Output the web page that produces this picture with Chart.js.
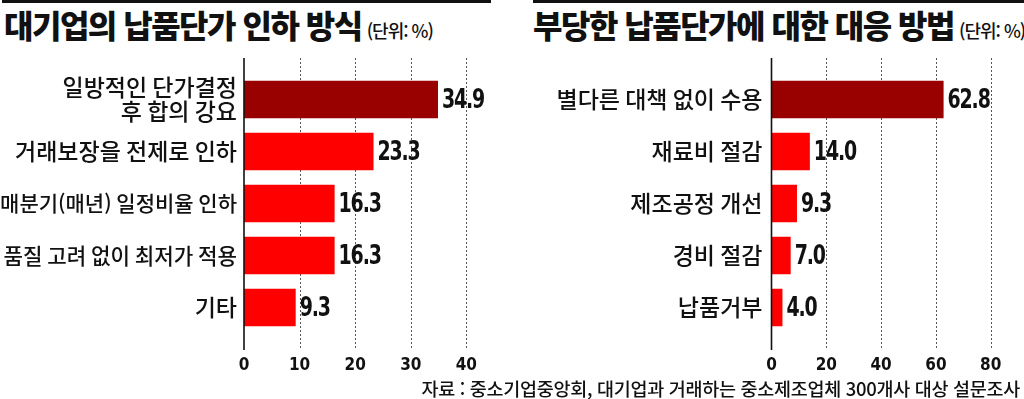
<!DOCTYPE html>
<html lang="ko">
<head>
<meta charset="utf-8">
<script src="https://cdn.jsdelivr.net/npm/chart.js@4"></script>
<style>
  html, body { margin:0; padding:0; background:#fff; }
  body { width:1024px; height:399px; position:relative; overflow:hidden; font-family:"Noto Sans CJK KR", sans-serif; color:#111; }
  .rule { position:absolute; top:0; height:3px; background:#111; }
  .title { position:absolute; top:8px; font-size:32px; font-weight:900; letter-spacing:-1.5px; line-height:1; white-space:nowrap; color:#111; }
  .title small { font-size:18px; font-weight:500; letter-spacing:-1px; margin-left:5px; }
  .src { position:absolute; right:4px; top:379px; font-size:18.5px; font-weight:500; line-height:1; letter-spacing:-0.3px; white-space:nowrap; color:#111; }
  canvas { position:absolute; top:0; }
</style>
</head>
<body>
<div class="rule" style="left:2px;width:489px"></div>
<div class="rule" style="left:533px;width:491px"></div>
<div class="title" style="left:4px">대기업의 납품단가 인하 방식<small>(단위: %)</small></div>
<div class="title" style="left:533px">부당한 납품단가에 대한 대응 방법<small>(단위: %)</small></div>
<canvas id="c1" width="500" height="399" style="left:0"></canvas>
<canvas id="c2" width="512" height="399" style="left:512px"></canvas>
<div class="src">자료 : 중소기업중앙회, 대기업과 거래하는 중소제조업체 300개사 대상 설문조사</div>
<script>
const leftCategories = [['일방적인 단가결정', '후 합의 강요'], '거래보장을 전제로 인하', '매분기(매년) 일정비율 인하', '품질 고려 없이 최저가 적용', '기타'];
const leftValues = [34.9, 23.3, 16.3, 16.3, 9.3];
const leftTicks = [0, 10, 20, 30, 40];

const rightCategories = ['별다른 대책 없이 수용', '재료비 절감', '제조공정 개선', '경비 절감', '납품거부'];
const rightValues = [62.8, 14.0, 9.3, 7.0, 4.0];
const rightTicks = [0, 20, 40, 60, 80];

const leftLabelSizes = [23, 23, 21, 21.2, 23];
const rightLabelSizes = [23, 23, 23, 23, 23];

const DARK = '#990000', RED = '#ff0000';
const NUMFONT = '"DejaVu Sans Condensed", "Liberation Sans", sans-serif';

function makeChart(id, cats, vals, ticks, maxV, yWidth, yPad, padRight, labelSizes) {
  const gridPlugin = {
    id: 'gridExt',
    beforeDatasetsDraw(chart) {
      const ctx = chart.ctx, x = chart.scales.x;
      ctx.save();
      ctx.strokeStyle = '#555';
      ctx.lineWidth = 1;
      ctx.setLineDash([2, 2]);
      ticks.forEach(t => {
        if (t === 0) return;
        const px = Math.round(x.getPixelForValue(t)) + 0.5;
        ctx.beginPath(); ctx.moveTo(px, 58); ctx.lineTo(px, 350); ctx.stroke();
      });
      ctx.restore();
    },
    afterDatasetsDraw(chart) {
      const ctx = chart.ctx, x = chart.scales.x;
      ctx.save();
      ctx.strokeStyle = '#111';
      ctx.lineWidth = 1.6;
      const px = x.getPixelForValue(0);
      ctx.beginPath(); ctx.moveTo(px, 58); ctx.lineTo(px, 350); ctx.stroke();
      ctx.restore();
      const meta = chart.getDatasetMeta(0);
      meta.data.forEach((bar, i) => {
        ctx.save();
        ctx.translate(bar.x + 4, bar.y + 1);
        ctx.scale(0.78, 1);
        ctx.fillStyle = '#111';
        ctx.font = 'bold 27px ' + NUMFONT;
        if ('letterSpacing' in ctx) ctx.letterSpacing = '-1.5px';
        ctx.textAlign = 'left';
        ctx.textBaseline = 'middle';
        ctx.fillText(vals[i].toFixed(1), 0, 0);
        ctx.restore();
      });
    }
  };
  return new Chart(document.getElementById(id), {
    type: 'bar',
    data: {
      labels: cats,
      datasets: [{
        data: vals,
        backgroundColor: vals.map((v, i) => i === 0 ? DARK : RED),
        borderWidth: 0,
        categoryPercentage: 1,
        barPercentage: 0.72
      }]
    },
    options: {
      indexAxis: 'y',
      responsive: false,
      animation: false,
      devicePixelRatio: 1,
      layout: { padding: { top: 73.5, right: padRight, left: 0, bottom: 0 } },
      plugins: { legend: { display: false }, tooltip: { enabled: false } },
      scales: {
        x: {
          min: 0, max: maxV,
          grid: { display: false, drawTicks: false },
          border: { display: false },
          afterBuildTicks: s => { s.ticks = ticks.map(v => ({ value: v })); },
          afterFit: s => { s.height = 399 - 333.5; },
          ticks: { padding: 22, color: '#111', font: { family: NUMFONT, size: 17, weight: 'bold' } }
        },
        y: {
          grid: { display: false, drawTicks: false },
          border: { display: false },
          afterFit: s => { s.width = yWidth; },
          ticks: {
            padding: yPad, color: '#111',
            font: c => ({ family: '"Noto Sans CJK KR", sans-serif', size: labelSizes[c.index] || 23, weight: 500, lineHeight: 1.05 })
          }
        }
      }
    },
    plugins: [gridPlugin]
  });
}

makeChart('c1', leftCategories, leftValues, leftTicks, 44, 244, 7, 11, leftLabelSizes);
makeChart('c2', rightCategories, rightValues, rightTicks, 88, 259.5, 9, 7, rightLabelSizes);
</script>
</body>
</html>
